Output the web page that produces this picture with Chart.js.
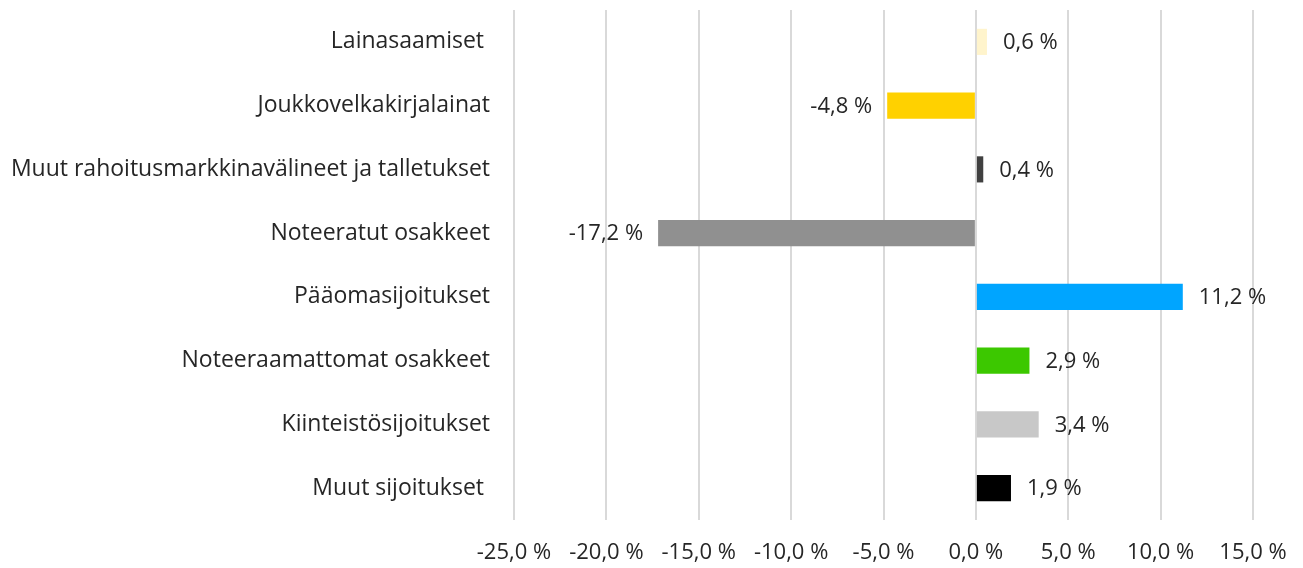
<!DOCTYPE html>
<html>
<head>
<meta charset="utf-8">
<script src="https://cdn.jsdelivr.net/npm/chart.js@4"></script>
<style>
  html, body { margin: 0; padding: 0; background: #fff; }
  #wrap { width: 1303px; height: 568px; position: relative; }
</style>
</head>
<body>
<div id="wrap"><canvas id="chart"></canvas></div>
<script>
const categories = ["Lainasaamiset ", "Joukkovelkakirjalainat", "Muut rahoitusmarkkinavälineet ja talletukset", "Noteeratut osakkeet", "Pääomasijoitukset", "Noteeraamattomat osakkeet", "Kiinteistösijoitukset", "Muut sijoitukset "];
const returns = [0.6, -4.8, 0.4, -17.2, 11.2, 2.9, 3.4, 1.9];
const barColors = ["#FFF4CC", "#FFD100", "#404040", "#909090", "#00A5FF", "#3CC800", "#C8C8C8", "#000000"];
const xTicks = [-25, -20, -15, -10, -5, 0, 5, 10, 15];

const fmt = v => v.toFixed(1).replace('.', ',') + ' %';

Chart.defaults.font.family = "'Open Sans', sans-serif";
Chart.defaults.color = '#262626';

// value labels next to each bar
const barLabels = {
    id: 'barLabels',
    afterDatasetsDraw(chart) {
        const ctx = chart.ctx;
        const meta = chart.getDatasetMeta(0);
        ctx.save();
        ctx.font = "22px 'Open Sans', sans-serif";
        ctx.fillStyle = '#262626';
        ctx.textBaseline = 'middle';
        meta.data.forEach((bar, i) => {
            const v = returns[i];
            if (v >= 0) {
                ctx.textAlign = 'left';
                ctx.fillText(fmt(v), bar.x + 16, bar.y + 1);
            } else {
                ctx.textAlign = 'right';
                ctx.fillText(fmt(v), bar.x - 15, bar.y + 1);
            }
        });
        ctx.restore();
    }
};

new Chart("chart", {
    type: "bar",
    data: {
        labels: categories,
        datasets: [{
            data: returns,
            backgroundColor: barColors,
            borderWidth: 0,
            barPercentage: 0.41,
            categoryPercentage: 1
        }]
    },
    plugins: [barLabels],
    options: {
        indexAxis: 'y',
        responsive: true,
        maintainAspectRatio: false,
        animation: false,
        layout: { padding: { top: 10, right: 50, left: 0, bottom: 0 } },
        plugins: {
            legend: { display: false },
            tooltip: { enabled: false }
        },
        scales: {
            x: {
                min: -25,
                max: 15,
                afterBuildTicks: axis => { axis.ticks = xTicks.map(v => ({ value: v })); },
                grid: { color: '#D9D9D9', lineWidth: 2, drawTicks: false },
                border: { display: false },
                ticks: {
                    callback: v => fmt(v),
                    font: { size: 22 },
                    color: '#262626',
                    padding: 20
                },
                afterFit: axis => { axis.height = 48; axis.paddingLeft = 0; axis.paddingRight = 0; }
            },
            y: {
                grid: { display: false, drawTicks: false },
                border: { display: false },
                ticks: {
                    font: { size: 23 },
                    color: '#262626',
                    padding: 24
                },
                afterFit: axis => { axis.width = 514; axis.paddingTop = 0; axis.paddingBottom = 0; }
            }
        }
    }
});
</script>
</body>
</html>
